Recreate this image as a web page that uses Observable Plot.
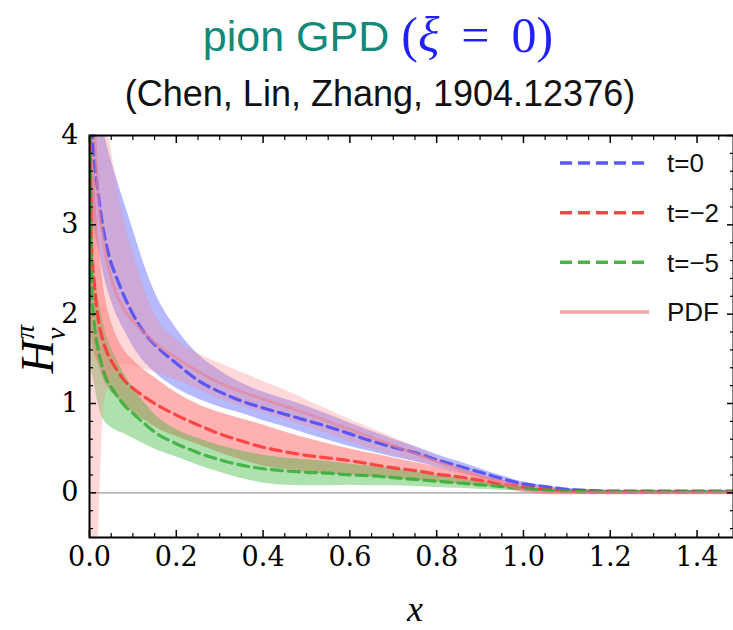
<!DOCTYPE html>
<html><head><meta charset="utf-8">
<script src="https://cdn.jsdelivr.net/npm/d3@7"></script>
<script src="https://cdn.jsdelivr.net/npm/@observablehq/plot@0.6"></script>
<style>
body{margin:0;background:#fff;}
#wrap{position:relative;width:733px;height:630px;overflow:hidden;background:#fff;}
#title{position:absolute;left:0;width:756px;top:9px;text-align:center;font-family:"Liberation Sans",sans-serif;font-size:43px;line-height:1;color:#12897a;white-space:nowrap;}
#title .m{color:#1f1fff;font-family:"Liberation Serif",serif;font-size:50px;position:relative;top:1px;}
#title .m .eq{padding:0 22px;}
#subtitle{position:absolute;left:0;width:760px;top:76px;text-align:center;font-family:"Liberation Sans",sans-serif;font-size:36px;line-height:1;color:#111;white-space:nowrap;}
#chart{position:absolute;left:0;top:100px;}
#legend{position:absolute;left:0;top:0;}
</style></head>
<body><div id="wrap">
<div id="title">pion GPD <span class="m">(<i>ξ</i><span class="eq">=</span>0)</span></div>
<div id="subtitle">(Chen, Lin, Zhang, 1904.12376)</div>
<div id="chart"></div>
<svg id="legend" width="733" height="630"></svg>
</div>
<script>
// ---- data ----
const xGrid   = [0.001,0.005,0.01,0.02,0.03,0.04,0.05,0.06,0.08,0.1,0.125,0.15,0.2,0.25,0.3,0.35,0.4,0.45,0.5,0.55,0.6,0.65,0.7,0.75,0.8,0.85,0.9,0.95,1.0,1.05,1.1,1.2,1.3,1.4,1.5];

const blueMid = [6.0,4.2,3.8,3.35,3.0,2.75,2.57,2.44,2.2,2.0,1.80,1.66,1.45,1.26,1.13,1.03,0.95,0.88,0.81,0.74,0.66,0.58,0.51,0.45,0.37,0.30,0.23,0.16,0.10,0.07,0.04,0.02,0.02,0.02,0.02];
const blueHi  = [8.0,6.0,5.2,4.6,4.15,3.9,3.72,3.56,3.25,2.95,2.57,2.25,1.84,1.55,1.37,1.23,1.13,1.05,0.97,0.88,0.78,0.69,0.60,0.52,0.43,0.35,0.27,0.19,0.12,0.08,0.05,0.03,0.03,0.03,0.03];
const blueLo  = [4.5,3.3,3.0,2.75,2.5,2.3,2.15,2.02,1.82,1.64,1.47,1.35,1.17,1.05,0.96,0.89,0.81,0.74,0.66,0.59,0.52,0.46,0.40,0.35,0.29,0.23,0.17,0.12,0.07,0.05,0.025,0.01,0.01,0.01,0.01];

const redMid  = [4.5,2.7,2.4,1.95,1.72,1.58,1.48,1.40,1.26,1.17,1.08,1.00,0.87,0.76,0.66,0.58,0.51,0.46,0.42,0.39,0.36,0.32,0.28,0.25,0.21,0.18,0.14,0.10,0.06,0.035,0.02,0.01,0.01,0.01,0.01];
const redHi   = [7.0,4.5,3.8,2.9,2.4,2.1,1.92,1.78,1.60,1.49,1.38,1.29,1.12,0.99,0.90,0.83,0.76,0.68,0.61,0.55,0.49,0.44,0.39,0.34,0.29,0.24,0.19,0.14,0.09,0.06,0.04,0.03,0.025,0.02,0.02];
const redLo   = [3.0,1.8,1.6,1.45,1.3,1.2,1.13,1.08,0.98,0.90,0.82,0.74,0.63,0.54,0.45,0.37,0.30,0.26,0.23,0.21,0.20,0.18,0.16,0.14,0.12,0.10,0.08,0.05,0.02,0.0,-0.01,-0.02,-0.02,-0.01,-0.005];

const greenMid = [4.2,2.3,1.95,1.6,1.4,1.26,1.18,1.11,0.98,0.89,0.78,0.68,0.55,0.45,0.37,0.31,0.27,0.245,0.23,0.22,0.20,0.19,0.17,0.15,0.13,0.11,0.09,0.07,0.045,0.03,0.02,0.01,0.01,0.01,0.01];
const greenHi  = [5.5,3.2,2.6,2.2,1.95,1.75,1.62,1.52,1.33,1.18,1.02,0.88,0.71,0.61,0.53,0.47,0.42,0.39,0.37,0.35,0.32,0.30,0.27,0.24,0.20,0.17,0.13,0.10,0.07,0.045,0.03,0.02,0.02,0.02,0.02];
const greenLo  = [2.5,1.4,1.25,1.0,0.84,0.77,0.73,0.70,0.66,0.61,0.55,0.49,0.40,0.31,0.23,0.16,0.11,0.085,0.08,0.08,0.085,0.08,0.08,0.07,0.06,0.05,0.04,0.03,0.02,0.01,0.005,0.0,0.0,0.0,0.0];

const pdfMid = [8.0,5.5,4.4,3.3,2.9,2.6,2.4,2.25,2.05,1.92,1.80,1.68,1.51,1.36,1.23,1.13,1.05,0.97,0.89,0.80,0.71,0.62,0.53,0.44,0.35,0.27,0.19,0.11,0.03,0,0,0,0,0,0];
const pdfHi  = [12,9,7,5,4.5,4.15,3.85,3.55,3.05,2.7,2.3,2.0,1.72,1.56,1.45,1.35,1.25,1.15,1.04,0.93,0.82,0.72,0.62,0.51,0.40,0.30,0.20,0.12,0.05,0,0,0,0,0,0];
const pdfLo  = [-4,-3,-2,-0.6,0.75,1.15,1.3,1.38,1.43,1.42,1.39,1.35,1.26,1.16,1.05,0.97,0.90,0.82,0.74,0.66,0.57,0.49,0.42,0.35,0.28,0.21,0.14,0.07,0.0,0,0,0,0,0,0];

const legendLabels = ["t=0","t=\u22122","t=\u22125","PDF"];
const xMajor = [0,0.2,0.4,0.6,0.8,1.0,1.2,1.4];
const xMajorLabels = ["0.0","0.2","0.4","0.6","0.8","1.0","1.2","1.4"];
const xMinor = d3.range(0,1.5,0.05).filter(v => Math.abs(v*5 - Math.round(v*5)) > 1e-6);
const yMajor = [0,1,2,3,4];
const yMajorLabels = ["0","1","2","3","4"];
const yMinor = d3.range(-0.4,4,0.2).filter(v => Math.abs(v - Math.round(v)) > 1e-6);

// ---- styles ----
const C = {
  blueLine:"#4646f5", blueFill:"#5a64ff",
  redLine:"#ff3232", redFill:"#ff4646",
  greenLine:"#35ad35", greenFill:"#32b432",
  pdfLine:"#e9808f", pdfFill:"#ff8a8a", pdfLegend:"#f8a3a3"
};
const tickFont = "DejaVu Serif, serif";
const tickFontSize = 27;

function rows(mid, lo, hi) { return xGrid.map((x,i)=>({x, mid: mid[i], lo: lo[i], hi: hi[i]})); }
const blue = rows(blueMid, blueLo, blueHi);
const red = rows(redMid, redLo, redHi);
const green = rows(greenMid, greenLo, greenHi);
const pdf = rows(pdfMid, pdfLo, pdfHi);

const curve = "monotone-x";
const band = (data, fill, op) => Plot.areaY(data, {x:"x", y1:"lo", y2:"hi", fill, fillOpacity: op, curve, clip: true});
const line = (data, stroke, dash, w, op) => Plot.lineY(data, {x:"x", y:"mid", stroke, strokeWidth: w, strokeDasharray: dash, strokeOpacity: op, curve, clip: true});

const plot = Plot.plot({
  width: 733, height: 530,
  marginLeft: 89, marginRight: 0, marginTop: 35, marginBottom: 93,
  x: {domain: [0, 1.484]},
  y: {domain: [-0.5, 4]},
  style: {fontFamily: tickFont, fontSize: tickFontSize + "px", color: "#000", background: "transparent", overflow: "visible"},
  marks: [
    Plot.ruleY([0], {stroke: "#9a9a9a", strokeWidth: 1.2}),
    band(blue, C.blueFill, 0.45),
    band(red, C.redFill, 0.42),
    band(green, C.greenFill, 0.4),
    band(pdf, C.pdfFill, 0.32),
    line(blue, C.blueLine, "11,6", 3.2, 0.85),
    line(red, C.redLine, "11,6", 3.2, 0.85),
    line(green, C.greenLine, "11,6", 3.2, 0.85),
    line(pdf, C.pdfLine, null, 3, 0.6),
    Plot.frame({stroke: "#000", strokeWidth: 2}),
    Plot.axisX(xMajor, {anchor: "bottom", tickSize: -7, tickPadding: 16, strokeWidth: 1.5, tickFormat: (d,i) => xMajorLabels[i], label: null, fontSize: tickFontSize}),
    Plot.axisX(xMinor, {anchor: "bottom", tickSize: -4, strokeWidth: 1.2, tickFormat: () => "", label: null}),
    Plot.axisX(xMajor, {anchor: "top", tickSize: -7, strokeWidth: 1.5, tickFormat: () => "", label: null}),
    Plot.axisX(xMinor, {anchor: "top", tickSize: -4, strokeWidth: 1.2, tickFormat: () => "", label: null}),
    Plot.axisY(yMajor, {anchor: "left", tickSize: -7, tickPadding: 18, strokeWidth: 1.5, tickFormat: (d,i) => yMajorLabels[i], label: null, fontSize: tickFontSize}),
    Plot.axisY(yMinor, {anchor: "left", tickSize: -4, strokeWidth: 1.2, tickFormat: () => "", label: null}),
    Plot.axisY(yMajor, {anchor: "right", tickSize: -7, strokeWidth: 1.5, tickFormat: () => "", label: null}),
    Plot.axisY(yMinor, {anchor: "right", tickSize: -4, strokeWidth: 1.2, tickFormat: () => "", label: null})
  ]
});
document.getElementById("chart").appendChild(plot);

// make sure tick label font applies
const svg = d3.select(plot);
svg.selectAll('g[aria-label$="tick label"], g[aria-label$="tick label"] text')
  .attr("font-size", tickFontSize).attr("font-family", tickFont)
  .style("font-size", tickFontSize + "px").style("font-family", tickFont);

// axis titles
svg.append("text")
  .attr("x", 415).attr("y", 521)
  .attr("text-anchor", "middle")
  .attr("font-family", "Liberation Serif, serif").attr("font-style", "italic").attr("font-size", 36)
  .text("x");
const yl = svg.append("text")
  .attr("transform", "translate(53,249) rotate(-90)")
  .attr("font-family", "Liberation Serif, serif").attr("font-style", "italic").attr("font-size", 46);
yl.append("tspan").text("H");
yl.append("tspan").attr("font-size", 28).attr("dx", 1).attr("dy", -19).text("\u03c0");
yl.append("tspan").attr("font-size", 28).attr("dx", -15).attr("dy", 31).text("v");

// legend
const lg = d3.select("#legend");
const legendStyles = [
  {stroke: C.blueLine, dash: "12,6", op: 0.9},
  {stroke: C.redLine, dash: "12,6", op: 0.9},
  {stroke: C.greenLine, dash: "12,6", op: 0.9},
  {stroke: C.pdfLegend, dash: null, op: 1}
];
const legendY = d3.scalePoint().domain(legendLabels).range([163, 312]);
legendLabels.forEach((lab, i) => {
  const y = legendY(lab);
  lg.append("line").attr("x1", 560).attr("x2", 649).attr("y1", y).attr("y2", y)
    .attr("stroke", legendStyles[i].stroke).attr("stroke-width", 3.5)
    .attr("stroke-opacity", legendStyles[i].op)
    .attr("stroke-dasharray", legendStyles[i].dash);
  lg.append("text").attr("x", 667).attr("y", y).attr("dy", "0.36em")
    .attr("font-family", "Liberation Sans, sans-serif").attr("font-size", 26).attr("fill", "#111")
    .text(lab);
});
</script>
</body></html>
